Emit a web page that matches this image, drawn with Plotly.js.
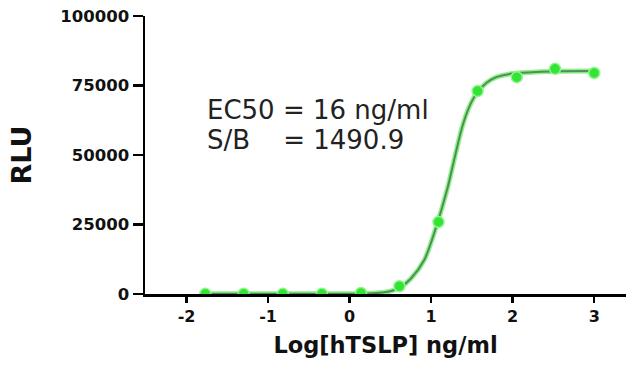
<!DOCTYPE html>
<html>
<head>
<meta charset="utf-8">
<script src="https://cdn.plot.ly/plotly-3.0.1.min.js"></script>
<style>html,body{margin:0;padding:0;background:#fff;}#chart{width:626px;height:365px;}</style>
</head>
<body>
<div id="chart"></div>
<script>
// Measured points: log10 concentration (ng/ml) and RLU
const logConc = [-1.77, -1.30, -0.82, -0.34, 0.14, 0.61, 1.09, 1.57, 2.05, 2.52, 3.0];
const rlu = [60, 80, 50, 70, 400, 2800, 25900, 73000, 78000, 81000, 79500];

// Fitted curve
const fitX = [-1.77, -1.0, -0.3, 0.2, 0.45, 0.61, 0.75, 0.915, 1.06, 1.2, 1.28, 1.38, 1.47, 1.56, 1.68, 1.8, 2.0, 2.3, 2.6, 3.0];
const fitY = [50, 50, 60, 150, 700, 2200, 5500, 12200, 24000, 38000, 48000, 60000, 67500, 72300, 76000, 78000, 79300, 79900, 80100, 80200];

const yTicks = [0, 25000, 50000, 75000, 100000];
const yTickText = ["0", "25000", "50000", "75000", "100000"];
const xTicks = [-2, -1, 0, 1, 2, 3];
const xTickText = ["-2", "-1", "0", "1", "2", "3"];

const annoLines = ["EC50 = 16 ng/ml", "S/B\u00A0\u00A0\u00A0\u00A0= 1490.9"];

const FONT = "DejaVu Sans";

const traces = [
  {x: fitX, y: fitY, mode: "lines", line: {color: "#8ef08e", width: 5, shape: "spline", smoothing: 0.8}, hoverinfo: "skip", showlegend: false},
  {x: fitX, y: fitY, mode: "lines", line: {color: "#4f8f4f", width: 2, shape: "spline", smoothing: 0.8}, showlegend: false, name: "Fit"},
  {x: logConc, y: rlu, mode: "markers", marker: {size: 11, color: "#33e433", line: {color: "#8ff58f", width: 1.5}}, showlegend: false, name: "hTSLP"}
];

const layout = {
  width: 626, height: 365,
  margin: {l: 145, r: 0, t: 16, b: 71},
  paper_bgcolor: "#ffffff", plot_bgcolor: "#ffffff",
  font: {family: FONT, color: "#111"},
  xaxis: {
    range: [-2.51, 3.39], tickvals: xTicks, ticktext: xTickText,
    ticks: "outside", ticklen: 6, tickwidth: 2.5, tickcolor: "#000",
    showline: true, linewidth: 2.5, linecolor: "#000",
    showgrid: false, zeroline: false,
    tickfont: {family: FONT, size: 16, weight: "bold", color: "#111"},
    title: {text: "Log[hTSLP] ng/ml", font: {family: FONT, size: 22.5, weight: "bold", color: "#111"}, standoff: 13}
  },
  yaxis: {
    range: [0, 100000], tickvals: yTicks, ticktext: yTickText,
    ticks: "outside", ticklen: 10, tickwidth: 2.5, tickcolor: "#000",
    showline: true, linewidth: 2.5, linecolor: "#000",
    showgrid: false, zeroline: false,
    tickfont: {family: FONT, size: 16.5, weight: "bold", color: "#111"},
    title: {text: "RLU", font: {family: FONT, size: 27, weight: "bold", color: "#111"}, standoff: 21}
  },
  annotations: [
    {x: -1.78, y: 66200, xref: "x", yref: "y", text: annoLines[0], showarrow: false, xanchor: "left", yanchor: "middle", font: {family: FONT, size: 26, color: "#222"}},
    {x: -1.78, y: 55400, xref: "x", yref: "y", text: annoLines[1], showarrow: false, xanchor: "left", yanchor: "middle", font: {family: FONT, size: 26, color: "#222"}}
  ]
};

Plotly.newPlot("chart", traces, layout, {displayModeBar: false, staticPlot: true});
</script>
</body>
</html>
